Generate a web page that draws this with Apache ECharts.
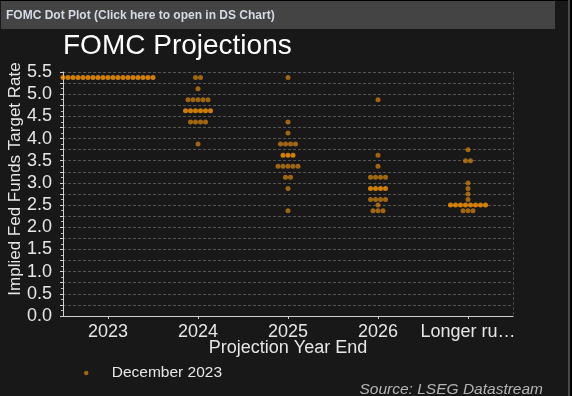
<!DOCTYPE html>
<html>
<head>
<meta charset="utf-8">
<script src="https://cdn.jsdelivr.net/npm/echarts@6/dist/echarts.min.js"></script>
<style>
html,body{margin:0;padding:0;background:#000;}
#chart{width:572px;height:396px;}
</style>
</head>
<body>
<div id="chart"></div>
<script>
// ---- data (December 2023 FOMC dot plot) ----
var categories = ['2023', '2024', '2025', '2026', 'Longer run'];
var tickLabels = ['2023', '2024', '2025', '2026', 'Longer ru\u2026'];
var yTickLabels = ['0.0','0.5','1.0','1.5','2.0','2.5','3.0','3.5','4.0','4.5','5.0','5.5'];

var rates2023 = [5.375];
var counts2023 = [19];
var rates2024 = [5.375, 5.125, 4.875, 4.625, 4.375, 3.875];
var counts2024 = [2, 1, 5, 6, 4, 1];
var rates2025 = [5.375, 4.375, 4.125, 3.875, 3.625, 3.375, 3.125, 2.875, 2.375];
var counts2025 = [1, 1, 1, 4, 3, 5, 2, 1, 1];
var rates2026 = [4.875, 3.625, 3.375, 3.125, 2.875, 2.625, 2.5, 2.375];
var counts2026 = [1, 1, 1, 4, 4, 4, 1, 3];
var ratesLonger = [3.75, 3.5, 3.0, 2.875, 2.75, 2.625, 2.5, 2.375];
var countsLonger = [1, 2, 1, 1, 1, 1, 8, 3];
var medians = [5.375, 4.625, 3.625, 2.875, 2.5];

var seriesName = 'December 2023';

// ---- build option ----
var allRates = [rates2023, rates2024, rates2025, rates2026, ratesLonger];
var allCounts = [counts2023, counts2024, counts2025, counts2026, countsLonger];
var dotGap = 5;
var darkColor = '#c47a10';
var brightColor = '#ff9a00';

var dots = [];
for (var c = 0; c < categories.length; c++) {
  for (var r = 0; r < allRates[c].length; r++) {
    var n = allCounts[c][r];
    var isMed = allRates[c][r] === medians[c];
    for (var i = 0; i < n; i++) {
      dots.push({
        value: [c, allRates[c][r]],
        symbolOffset: [(i - (n - 1) / 2) * dotGap, 0],
        itemStyle: { color: isMed ? brightColor : darkColor }
      });
    }
  }
}

var chart = echarts.init(document.getElementById('chart'), null, { renderer: 'canvas' });
var font = 'Liberation Sans, Arial, sans-serif';

chart.setOption({
  backgroundColor: '#181818',
  animation: false,
  textStyle: { fontFamily: font },
  title: [
    {
      text: 'FOMC Dot Plot (Click here to open in DS Chart)',
      left: 6, top: 10, padding: 0,
      textStyle: { fontSize: 12, fontWeight: 'bold', color: '#d4dae6', fontFamily: font }
    },
    {
      text: 'FOMC Projections',
      left: 63, top: 32, padding: 0,
      textStyle: { fontSize: 28, fontWeight: 'normal', color: '#ffffff', fontFamily: font }
    },
    {
      text: 'Source: LSEG Datastream',
      right: 29, top: 382, padding: 0,
      textStyle: { fontSize: 15.5, fontWeight: 'normal', fontStyle: 'italic', color: '#b4b4b4', fontFamily: font }
    }
  ],
  graphic: [
    { type: 'rect', z: -1, shape: { x: 1, y: 1, width: 554, height: 28 }, style: { fill: '#444444' } },
    { type: 'rect', z: -1, shape: { x: 0, y: 0, width: 572, height: 1 }, style: { fill: '#000000' } },
    { type: 'rect', z: -1, shape: { x: 568, y: 0, width: 2, height: 396 }, style: { fill: '#4a4a4a' } },
    { type: 'rect', z: -1, shape: { x: 570, y: 0, width: 2, height: 396 }, style: { fill: '#000000' } }
  ],
  legend: {
    left: 79, top: 360,
    itemWidth: 41, itemHeight: 4.5,
    icon: 'circle',
    textStyle: { color: '#e6e6e6', fontSize: 15.5, fontFamily: font },
    data: [seriesName]
  },
  grid: { left: 63, right: 59, top: 72, bottom: 80, containLabel: false, outerBoundsMode: 'none' },
  xAxis: {
    type: 'category',
    data: tickLabels,
    boundaryGap: true,
    name: 'Projection Year End',
    nameLocation: 'middle',
    nameGap: 23,
    nameMoveOverlap: false,
    nameTextStyle: { color: '#e6e6e6', fontSize: 18, fontFamily: font },
    axisLine: { lineStyle: { color: '#d0d0d0', width: 1 } },
    axisTick: { show: true, alignWithLabel: true, length: 3, lineStyle: { color: '#d0d0d0' } },
    axisLabel: { color: '#e6e6e6', fontSize: 18, margin: 7, fontFamily: font, interval: 0 },
    splitLine: {
      show: true,
      interval: function (idx) { return idx === 4; },
      lineStyle: { color: '#4a4a4a', type: [3, 2], width: 1 }
    }
  },
  yAxis: {
    type: 'value',
    min: 0, max: 5.5, interval: 0.25,
    name: 'Implied Fed Funds Target Rate',
    nameLocation: 'middle',
    nameRotate: 90,
    nameGap: 39,
    nameMoveOverlap: false,
    nameTextStyle: { color: '#e6e6e6', fontSize: 17, fontFamily: font, padding: [0, 0, 0, 30] },
    axisLine: { show: true, lineStyle: { color: '#d0d0d0', width: 1 } },
    axisTick: { show: true, length: 3, lineStyle: { color: '#d0d0d0' } },
    minorTick: { show: true, splitNumber: 2, length: 2, lineStyle: { color: '#bbbbbb' } },
    axisLabel: {
      color: '#e6e6e6', fontSize: 18, margin: 11, fontFamily: font,
      formatter: function (v) {
        var k = Math.round(v * 2);
        return Math.abs(v * 2 - k) < 1e-6 ? yTickLabels[k] : '';
      }
    },
    splitLine: { show: true, lineStyle: { color: '#555555', type: [3, 2], width: 1 } }
  },
  series: [{
    name: seriesName,
    type: 'scatter',
    symbol: 'circle',
    symbolSize: 5,
    itemStyle: { color: darkColor },
    data: dots
  }]
});
</script>
</body>
</html>
